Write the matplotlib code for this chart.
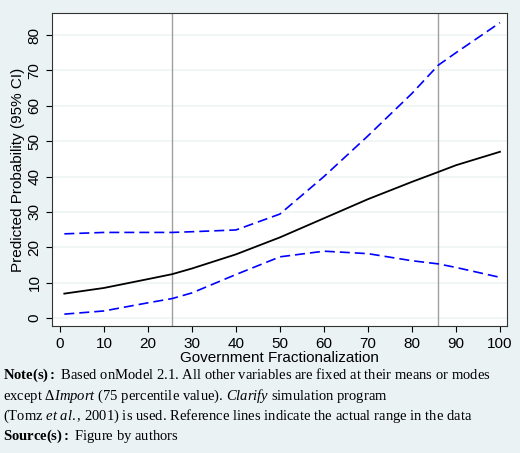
import matplotlib.pyplot as plt

# values
x = [1, 10, 20, 25.5, 30, 40, 50, 60, 70, 80, 86, 90, 100]
predicted = [6.9, 8.5, 11.0, 12.4, 14.0, 18.0, 22.8, 28.2, 33.6, 38.5, 41.3, 43.2, 47.0]
upper = [23.8, 24.2, 24.2, 24.2, 24.4, 24.9, 29.4, 40.0, 51.5, 63.5, 71.5, 75.0, 83.5]
lower = [1.1, 2.0, 4.3, 5.5, 7.1, 12.3, 17.3, 18.9, 18.2, 16.2, 15.3, 14.3, 11.5]
ref_lines = [25.5, 86]
xticks = list(range(0, 101, 10))
yticks = list(range(0, 81, 10))

serif = "Liberation Serif"
plt.rcParams["font.family"] = "Liberation Sans"
plt.rcParams["mathtext.fontset"] = "custom"
plt.rcParams["mathtext.rm"] = serif
plt.rcParams["mathtext.it"] = serif + ":italic"
plt.rcParams["mathtext.bf"] = serif + ":bold"

bg = "#eaf2f3"
fig = plt.figure(figsize=(5.2, 4.53), dpi=100, facecolor=bg)
ax = fig.add_axes([0.1, 0.28, 0.875, 0.691])

for yt in yticks:
    ax.axhline(yt, color="#eef3f5", lw=1.2, zorder=0)
for r in ref_lines:
    ax.axvline(r, color="#a0a0a0", lw=1.0, zorder=1)

ax.plot(x, predicted, color="black", lw=1.3, zorder=3)
ax.plot(x, upper, color="blue", lw=1.2, ls=(0, (6, 3)), zorder=3)
ax.plot(x, lower, color="blue", lw=1.2, ls=(0, (6, 3)), zorder=3)

ax.set_xlim(-1.8, 101.6)
ax.set_ylim(-2.3, 86.2)
ax.set_xticks(xticks)
ax.set_yticks(yticks)
ax.tick_params(labelsize=11, length=4)
for lbl in ax.get_yticklabels():
    lbl.set_rotation(90)
    lbl.set_va("center")
ax.set_xlabel("Government Fractionalization", fontsize=11, labelpad=0)
ax.set_ylabel("Predicted Probability (95% CI)", fontsize=11, labelpad=2)
for s in ax.spines.values():
    s.set_color("#333333")

fig.text(0.006, 0.19,
         r"$\bf{Note(s):}$ Based onModel 2.1. All other variables are fixed at their means or modes" "\n"
         r"except $\Delta\it{Import}$ (75 percentile value). $\it{Clarify}$ simulation program" "\n"
         r"(Tomz $\it{et\ al.}$, 2001) is used. Reference lines indicate the actual range in the data" "\n"
         r"$\bf{Source(s):}$ Figure by authors",
         fontsize=10.5, family=serif, va="top", ha="left", linespacing=1.25)

fig.savefig("out.png", dpi=100, facecolor=bg)
